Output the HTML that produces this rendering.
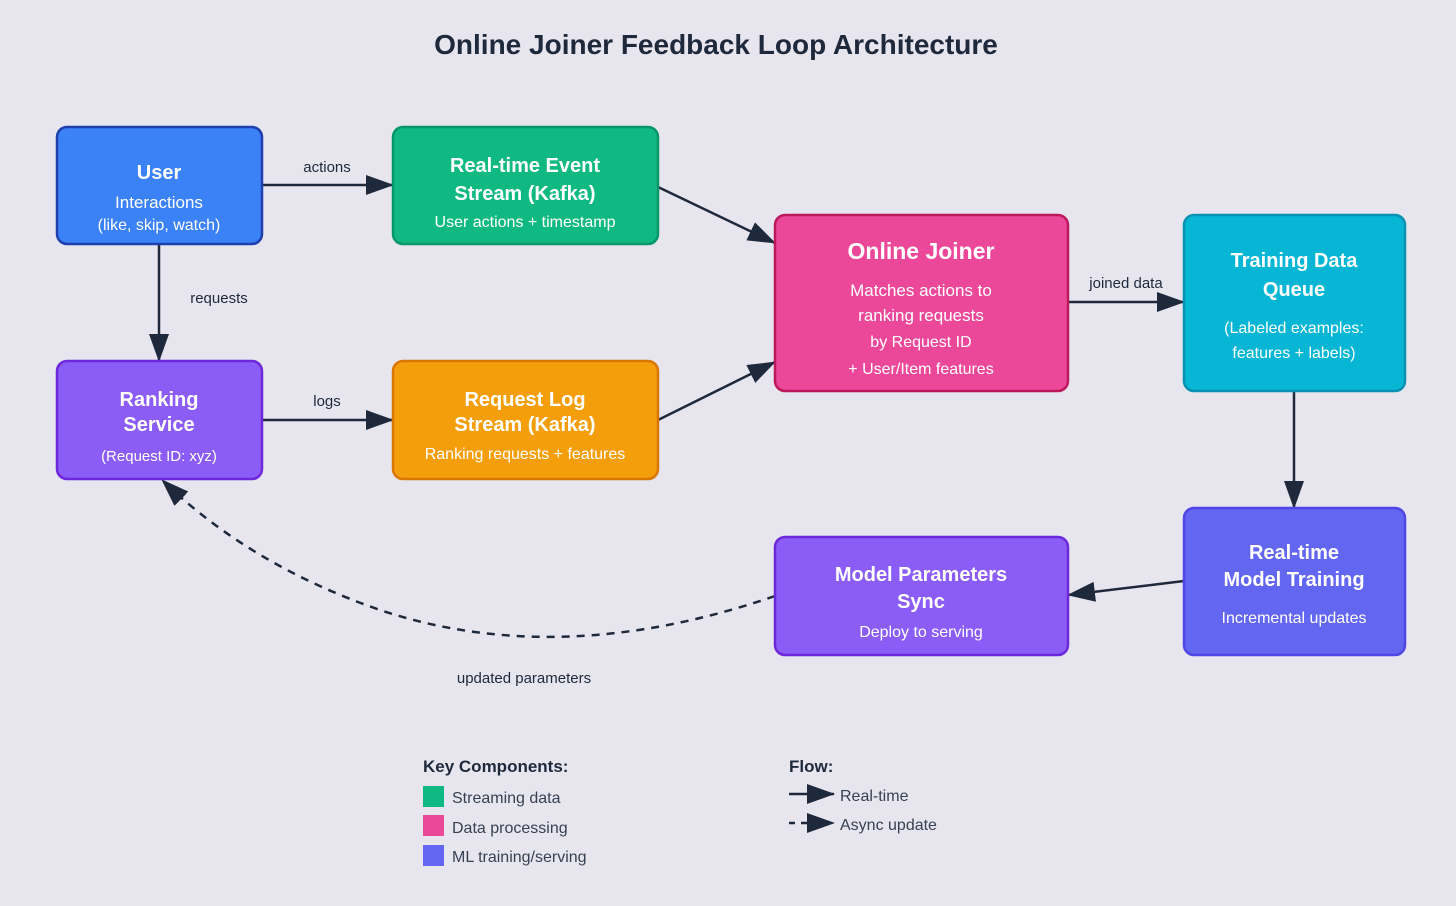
<!DOCTYPE html>
<html><head><meta charset="utf-8"><style>
html,body{margin:0;padding:0;background:#e7e6ef;}
svg{display:block;font-family:"Liberation Sans",sans-serif;}
</style></head><body>
<svg width="1456" height="906" viewBox="0 0 1456 906" xmlns="http://www.w3.org/2000/svg">
<defs>
<marker id="ah" markerWidth="28" markerHeight="20" refX="27" refY="10" orient="auto" markerUnits="userSpaceOnUse">
<path d="M0,0 L28,10 L0,20 Z" fill="#1e293b"/></marker>
</defs>
<rect width="1456" height="906" fill="#e7e6ef"/>
<text x="716" y="54" text-anchor="middle" font-size="28" font-weight="bold" fill="#1e293b">Online Joiner Feedback Loop Architecture</text>

<g stroke="#1e293b" stroke-width="2.5" fill="none">
<line x1="262" y1="185" x2="393" y2="185" marker-end="url(#ah)"/>
<line x1="159" y1="244" x2="159" y2="361" marker-end="url(#ah)"/>
<line x1="262" y1="420" x2="393" y2="420" marker-end="url(#ah)"/>
<line x1="658" y1="187" x2="775" y2="243" marker-end="url(#ah)"/>
<line x1="658" y1="420" x2="775" y2="362" marker-end="url(#ah)"/>
<line x1="1068" y1="302" x2="1184" y2="302" marker-end="url(#ah)"/>
<line x1="1294" y1="391" x2="1294" y2="508" marker-end="url(#ah)"/>
<line x1="1184" y1="581" x2="1068" y2="595" marker-end="url(#ah)"/>
<path d="M775,596 Q560,670 380,610 Q250,565 162,480" stroke-dasharray="8,7" marker-end="url(#ah)"/>
</g>
<g font-size="15" fill="#1e293b" text-anchor="middle">
<text x="327" y="172">actions</text>
<text x="219" y="303">requests</text>
<text x="327" y="406">logs</text>
<text x="1126" y="288">joined data</text>
<text x="524" y="683">updated parameters</text>
</g>

<g stroke-width="2.5">
<rect x="57" y="127" width="205" height="117" rx="10" fill="#3b82f6" stroke="#1e40af"/>
<rect x="393" y="127" width="265" height="117" rx="10" fill="#10b981" stroke="#059669"/>
<rect x="57" y="361" width="205" height="118" rx="10" fill="#8b5cf6" stroke="#6d28d9"/>
<rect x="393" y="361" width="265" height="118" rx="10" fill="#f59e0b" stroke="#d97706"/>
<rect x="775" y="215" width="293" height="176" rx="10" fill="#ec4899" stroke="#be185d"/>
<rect x="1184" y="215" width="221" height="176" rx="10" fill="#06b6d4" stroke="#0891b2"/>
<rect x="1184" y="508" width="221" height="147" rx="10" fill="#6366f1" stroke="#4f46e5"/>
<rect x="775" y="537" width="293" height="118" rx="10" fill="#8b5cf6" stroke="#6d28d9"/>
</g>

<g fill="#fff" text-anchor="middle">
<text x="159" y="179" font-size="20" font-weight="bold">User</text>
<text x="159" y="208" font-size="17">Interactions</text>
<text x="159" y="230" font-size="16">(like, skip, watch)</text>

<text x="525" y="172" font-size="20" font-weight="bold">Real-time Event</text>
<text x="525" y="200" font-size="20" font-weight="bold">Stream (Kafka)</text>
<text x="525" y="227" font-size="16">User actions + timestamp</text>

<text x="159" y="406" font-size="20" font-weight="bold">Ranking</text>
<text x="159" y="431" font-size="20" font-weight="bold">Service</text>
<text x="159" y="461" font-size="15">(Request ID: xyz)</text>

<text x="525" y="406" font-size="20" font-weight="bold">Request Log</text>
<text x="525" y="431" font-size="20" font-weight="bold">Stream (Kafka)</text>
<text x="525" y="459" font-size="16">Ranking requests + features</text>

<text x="921" y="259" font-size="23" font-weight="bold">Online Joiner</text>
<text x="921" y="296" font-size="17">Matches actions to</text>
<text x="921" y="321" font-size="17">ranking requests</text>
<text x="921" y="347" font-size="16">by Request ID</text>
<text x="921" y="374" font-size="16">+ User/Item features</text>

<text x="1294" y="267" font-size="20" font-weight="bold">Training Data</text>
<text x="1294" y="296" font-size="20" font-weight="bold">Queue</text>
<text x="1294" y="333" font-size="16">(Labeled examples:</text>
<text x="1294" y="358" font-size="16">features + labels)</text>

<text x="1294" y="559" font-size="20" font-weight="bold">Real-time</text>
<text x="1294" y="586" font-size="20" font-weight="bold">Model Training</text>
<text x="1294" y="623" font-size="16">Incremental updates</text>

<text x="921" y="581" font-size="20" font-weight="bold">Model Parameters</text>
<text x="921" y="608" font-size="20" font-weight="bold">Sync</text>
<text x="921" y="637" font-size="16">Deploy to serving</text>
</g>

<text x="423" y="772" font-size="17" font-weight="bold" fill="#1e293b">Key Components:</text>
<rect x="423" y="786" width="21" height="21" fill="#10b981"/>
<rect x="423" y="815" width="21" height="21" fill="#ec4899"/>
<rect x="423" y="845" width="21" height="21" fill="#6366f1"/>
<g font-size="16" fill="#374151">
<text x="452" y="803">Streaming data</text>
<text x="452" y="833">Data processing</text>
<text x="452" y="862">ML training/serving</text>
<text x="840" y="801">Real-time</text>
<text x="840" y="830">Async update</text>
</g>
<text x="789" y="772" font-size="17" font-weight="bold" fill="#1e293b">Flow:</text>
<line x1="789" y1="794" x2="834" y2="794" stroke="#1e293b" stroke-width="2.5" marker-end="url(#ah)"/>
<line x1="789" y1="823" x2="834" y2="823" stroke="#1e293b" stroke-width="2.5" stroke-dasharray="6,6" marker-end="url(#ah)"/>
</svg>
</body></html>
